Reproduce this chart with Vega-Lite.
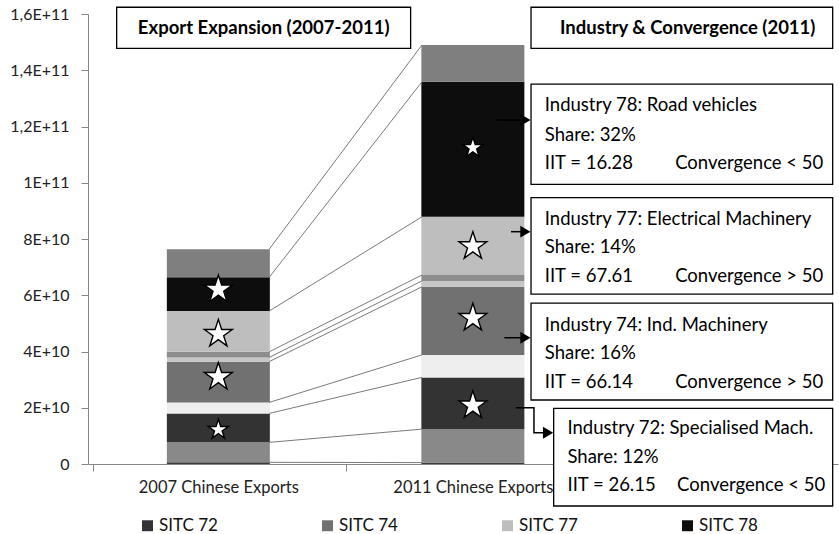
{
  "$schema": "https://vega.github.io/schema/vega-lite/v6.json",
  "width": 750,
  "height": 450,
  "autosize": {"type": "none"},
  "padding": {"left": 88, "top": 14, "right": 1, "bottom": 70},
  "background": "white",
  "config": {"view": {"stroke": null}, "font": "Lato", "axis": {"grid": false}},
  "datasets": {
    "segments": [
      {"year": 2007, "series": "Other", "value": 6e8},
      {"year": 2007, "series": "SITC 71", "value": 7.1e9},
      {"year": 2007, "series": "SITC 72", "value": 1.03e10},
      {"year": 2007, "series": "SITC 73", "value": 3.9e9},
      {"year": 2007, "series": "SITC 74", "value": 1.45e10},
      {"year": 2007, "series": "SITC 75", "value": 1.5e9},
      {"year": 2007, "series": "SITC 76", "value": 2.0e9},
      {"year": 2007, "series": "SITC 77", "value": 1.45e10},
      {"year": 2007, "series": "SITC 78", "value": 1.2e10},
      {"year": 2007, "series": "SITC 79", "value": 1.0e10},
      {"year": 2011, "series": "Other", "value": 5e8},
      {"year": 2011, "series": "SITC 71", "value": 1.19e10},
      {"year": 2011, "series": "SITC 72", "value": 1.84e10},
      {"year": 2011, "series": "SITC 73", "value": 8.0e9},
      {"year": 2011, "series": "SITC 74", "value": 2.42e10},
      {"year": 2011, "series": "SITC 75", "value": 2.1e9},
      {"year": 2011, "series": "SITC 76", "value": 2.1e9},
      {"year": 2011, "series": "SITC 77", "value": 2.07e10},
      {"year": 2011, "series": "SITC 78", "value": 4.8e10},
      {"year": 2011, "series": "SITC 79", "value": 1.31e10}
    ],
    "stars": [
      {"year": 2007, "series": "SITC 72", "value": 1.22e10},
      {"year": 2007, "series": "SITC 74", "value": 3.09e10},
      {"year": 2007, "series": "SITC 77", "value": 4.62e10},
      {"year": 2007, "series": "SITC 78", "value": 6.2e10},
      {"year": 2011, "series": "SITC 72", "value": 2.08e10},
      {"year": 2011, "series": "SITC 74", "value": 5.19e10},
      {"year": 2011, "series": "SITC 77", "value": 7.74e10},
      {"year": 2011, "series": "SITC 78", "value": 1.124e11}
    ],
    "boxes": [
      {"x": 2005.402, "x2": 2010.022, "y": 1.624e11, "y2": 1.478e11},
      {"x": 2011.914, "x2": 2016.655, "y": 1.624e11, "y2": 1.478e11},
      {"x": 2011.914, "x2": 2016.655, "y": 1.351e11, "y2": 9.945e10},
      {"x": 2011.914, "x2": 2016.655, "y": 9.47e10, "y2": 6.04e10},
      {"x": 2011.914, "x2": 2016.655, "y": 5.72e10, "y2": 2.276e10},
      {"x": 2012.27, "x2": 2016.655, "y": 1.98e10, "y2": -1.493e10}
    ],
    "arrows": [
      {"x": 2011.366, "x2": 2011.82, "y": 1.223e11},
      {"x": 2011.599, "x2": 2011.82, "y": 8.26e10},
      {"x": 2011.495, "x2": 2011.82, "y": 4.49e10}
    ],
    "elbow": [
      {"k": 0, "x": 2011.676, "y": 2.0e10},
      {"k": 1, "x": 2011.96, "y": 2.0e10},
      {"k": 2, "x": 2011.96, "y": 1.11e10},
      {"k": 3, "x": 2012.17, "y": 1.11e10}
    ],
    "heads": [
      {"x": 2011.826, "y": 1.223e11},
      {"x": 2011.826, "y": 8.26e10},
      {"x": 2011.826, "y": 4.49e10},
      {"x": 2012.182, "y": 1.11e10}
    ],
    "titles": [
      {"x": 2007.712, "y": 1.551e11, "text": "Export Expansion (2007-2011)"},
      {"x": 2014.376, "y": 1.551e11, "text": "Industry & Convergence (2011)"}
    ],
    "notes": [
      {"x": 2012.13, "y": 1.276e11, "text": "Industry 78: Road vehicles"},
      {"x": 2012.13, "y": 1.170e11, "text": "Share: 32%"},
      {"x": 2012.13, "y": 1.071e11, "text": "IIT = 16.28"},
      {"x": 2014.18, "y": 1.071e11, "text": "Convergence < 50"},
      {"x": 2012.13, "y": 8.70e10, "text": "Industry 77: Electrical Machinery"},
      {"x": 2012.13, "y": 7.705e10, "text": "Share: 14%"},
      {"x": 2012.13, "y": 6.695e10, "text": "IIT = 67.61"},
      {"x": 2014.18, "y": 6.695e10, "text": "Convergence > 50"},
      {"x": 2012.13, "y": 4.96e10, "text": "Industry 74: Ind. Machinery"},
      {"x": 2012.13, "y": 3.936e10, "text": "Share: 16%"},
      {"x": 2012.13, "y": 2.926e10, "text": "IIT = 66.14"},
      {"x": 2014.18, "y": 2.926e10, "text": "Convergence > 50"},
      {"x": 2012.487, "y": 1.27e10, "text": "Industry 72: Specialised Mach."},
      {"x": 2012.487, "y": 2.6e9, "text": "Share: 12%"},
      {"x": 2012.487, "y": -7.47e9, "text": "IIT = 26.15"},
      {"x": 2014.21, "y": -7.47e9, "text": "Convergence < 50"}
    ]
  },
  "layer": [
    {
      "data": {"name": "segments"},
      "mark": {"type": "bar", "width": 103},
      "encoding": {
        "x": {
          "field": "year", "type": "quantitative", "title": null,
          "scale": {"domain": [2005.03, 2016.66], "nice": false, "zero": false},
          "axis": {
            "values": [2005.03, 2007, 2009, 2011, 2012.97],
            "labelExpr": "datum.value == 2007 ? '2007 Chinese Exports' : datum.value == 2011 ? '2011 Chinese Exports' : ''",
            "labelOverlap": false, "labelFlush": false, "labelBound": false,
            "tickSize": 7, "tickColor": "#868686", "domainColor": "#868686",
            "tickOpacity": {"condition": {"test": "datum.value == 2007 || datum.value == 2011", "value": 0}, "value": 1},
            "labelFont": "Lato", "labelFontSize": 16.5, "labelColor": "#222", "labelPadding": 8
          }
        },
        "y": {
          "field": "value", "type": "quantitative", "stack": "zero", "title": null,
          "scale": {"domain": [0, 160000000000], "nice": false},
          "axis": {
            "values": [0, 20000000000, 40000000000, 60000000000, 80000000000, 100000000000, 120000000000, 140000000000, 160000000000],
            "labelExpr": "datum.value == 0 ? '0' : datum.value >= 1e11 ? replace(format(datum.value / 1e11, '.1~f'), '.', ',') + 'E+11' : format(datum.value / 1e10, '.0f') + 'E+10'",
            "tickSize": 7, "tickColor": "#868686", "domainColor": "#868686",
            "labelFont": "Lato", "labelFontSize": 16, "labelColor": "#222", "labelPadding": 12
          }
        },
        "color": {
          "field": "series", "type": "nominal",
          "scale": {
            "domain": ["Other", "SITC 71", "SITC 72", "SITC 73", "SITC 74", "SITC 75", "SITC 76", "SITC 77", "SITC 78", "SITC 79"],
            "range": ["#3c3c3c", "#898989", "#333333", "#eeeeee", "#717171", "#c6c6c6", "#8d8d8d", "#bebebe", "#0d0d0d", "#7f7f7f"]
          },
          "legend": {
            "values": ["SITC 72", "SITC 74", "SITC 77", "SITC 78"],
            "orient": "none", "legendX": 51, "legendY": 503,
            "direction": "horizontal", "columns": 4, "columnPadding": 101, "gridAlign": "all",
            "symbolType": "square", "symbolSize": 120, "symbolStrokeWidth": 0,
            "labelFont": "Lato", "labelFontSize": 17, "labelColor": "#111", "labelOffset": 3,
            "title": null, "padding": 0
          }
        },
        "order": {"field": "series", "sort": "ascending"}
      }
    },
    {
      "data": {"name": "segments"},
      "transform": [
        {"stack": "value", "groupby": ["year"], "sort": [{"field": "series", "order": "ascending"}], "as": ["lo", "hi"]},
        {"pivot": "year", "value": "hi", "groupby": ["series"]}
      ],
      "mark": {"type": "rule", "color": "#7a7a7a", "strokeWidth": 1},
      "encoding": {
        "x": {"datum": 2007.8, "type": "quantitative", "title": null},
        "x2": {"datum": 2010.2},
        "y": {"field": "2007", "type": "quantitative", "title": null},
        "y2": {"field": "2011"}
      }
    },
    {
      "data": {"name": "boxes"},
      "mark": {"type": "rect", "fill": "white", "stroke": "black", "strokeWidth": 1.3},
      "encoding": {
        "x": {"field": "x", "type": "quantitative", "title": null},
        "x2": {"field": "x2"},
        "y": {"field": "y", "type": "quantitative", "title": null},
        "y2": {"field": "y2"}
      }
    },
    {
      "data": {"name": "arrows"},
      "mark": {"type": "rule", "color": "black", "strokeWidth": 1.5},
      "encoding": {
        "x": {"field": "x", "type": "quantitative", "title": null},
        "x2": {"field": "x2"},
        "y": {"field": "y", "type": "quantitative", "title": null}
      }
    },
    {
      "data": {"name": "elbow"},
      "mark": {"type": "line", "color": "black", "strokeWidth": 1.5},
      "encoding": {
        "x": {"field": "x", "type": "quantitative", "title": null},
        "y": {"field": "y", "type": "quantitative", "title": null},
        "order": {"field": "k"}
      }
    },
    {
      "data": {"name": "heads"},
      "mark": {"type": "point", "shape": "triangle-right", "filled": true, "color": "black", "size": 140, "opacity": 1},
      "encoding": {
        "x": {"field": "x", "type": "quantitative", "title": null},
        "y": {"field": "y", "type": "quantitative", "title": null}
      }
    },
    {
      "data": {"name": "stars"},
      "mark": {
        "type": "point",
        "shape": "M0,-1L0.2245,-0.309L0.9511,-0.309L0.3633,0.118L0.5878,0.809L0,0.382L-0.5878,0.809L-0.3633,0.118L-0.9511,-0.309L-0.2245,-0.309Z",
        "filled": true, "fill": "white", "stroke": "black", "strokeWidth": 1.4, "opacity": 1, "fillOpacity": 1
      },
      "encoding": {
        "x": {"field": "year", "type": "quantitative", "title": null},
        "y": {"field": "value", "type": "quantitative", "title": null},
        "size": {
          "condition": {"test": "(datum.year == 2007 && datum.series == 'SITC 72') || (datum.year == 2011 && datum.series == 'SITC 78')", "value": 440},
          "value": 860
        }
      }
    },
    {
      "data": {"name": "titles"},
      "mark": {"type": "text", "font": "Lato", "fontSize": 18.5, "fontWeight": "bold", "align": "center", "baseline": "middle", "color": "black"},
      "encoding": {
        "x": {"field": "x", "type": "quantitative", "title": null},
        "y": {"field": "y", "type": "quantitative", "title": null},
        "text": {"field": "text"}
      }
    },
    {
      "data": {"name": "notes"},
      "mark": {"type": "text", "font": "Lato", "fontSize": 18.5, "align": "left", "baseline": "middle", "color": "black"},
      "encoding": {
        "x": {"field": "x", "type": "quantitative", "title": null},
        "y": {"field": "y", "type": "quantitative", "title": null},
        "text": {"field": "text"}
      }
    }
  ]
}
